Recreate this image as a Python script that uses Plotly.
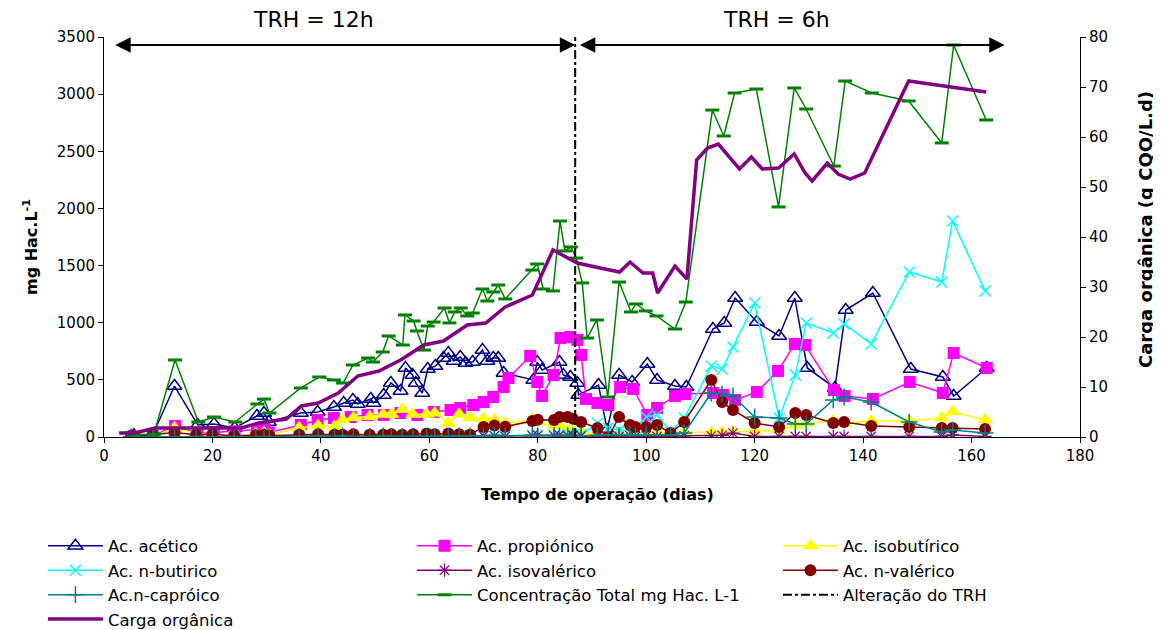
import plotly.graph_objects as go

# ---------------- data ----------------
ac_d = [5.5, 9, 13, 17.3, 20.3, 24.1, 28.2, 29.5, 30.4, 36.3, 39.4, 42.4, 44.2, 45.9, 46.8, 49.2, 49.7, 51.6,
        52.9, 54.7, 55.6, 56.9, 57.5, 58.7, 59.7, 61.1, 62.6, 63.5, 64.5, 65.7, 66.7, 68, 69.8, 70.7, 71.8,
        72.7, 73.7, 79.2, 79.9, 80.8, 84, 84.7, 86, 87.3, 87.5, 91.2, 92.8, 95, 97.4, 100.2, 102, 105.3,
        107.4, 112.3, 114.4, 116.4, 120.4, 124.5, 127.4, 129.7, 134.8, 136.8, 141.8, 148.8, 154.7, 156.7, 162.8]
ac_v = [15, 20, 446, 105, 114, 79, 184, 210, 131, 210, 219, 263, 298, 324, 289, 333, 298, 368,
        473, 403, 604, 543, 473, 385, 595, 621, 691, 735, 665, 700, 648, 656, 761, 665, 691,
        691, 560, 499, 656, 586, 656, 543, 525, 473, 368, 455, 61, 543, 481, 639, 499, 446,
        438, 945, 998, 1216, 1006, 884, 1216, 604, 429, 1111, 1260, 595, 525, 359, 604]

pr_d = [5.5, 9, 13.1, 17.3, 20.3, 24.1, 28.2, 29.5, 30.4, 36.3, 39.4, 42.4, 45.5, 48.6, 51.6, 54.7, 57.8,
        60.8, 63.9, 65.7, 68.1, 70, 71.8, 73.7, 74.6, 78.6, 79.9, 80.8, 82.9, 84.2, 86, 87.3, 88, 88.9,
        91, 93, 95.2, 97.6, 100.2, 102, 105.3, 107.2, 112.3, 114.2, 116.4, 120.4, 124.3, 127.4, 129.3,
        134.6, 136.6, 141.8, 148.6, 154.7, 156.7, 162.8]
pr_v = [5, 10, 96, 30, 40, 50, 60, 70, 40, 105, 149, 166, 175, 193, 193, 210, 193,
        219, 236, 254, 280, 306, 350, 438, 516, 709, 481, 359, 543, 866, 875, 849, 718, 333,
        298, 280, 438, 420, 193, 254, 359, 376, 385, 368, 324, 394, 578, 814, 805,
        411, 359, 333, 481, 385, 735, 604]

# shared sampling days for the minor acids
dias = [5, 9, 13, 17, 20, 24, 28, 29.5, 30.5, 36, 39.5, 42.5, 44, 46, 49, 51.5, 53, 55, 57, 59.5,
        61, 63.5, 65.5, 67.5, 70, 72, 74, 79, 80, 83, 84, 85.5, 86.5, 88, 91, 93, 95, 97, 98, 100,
        102, 104.5, 107, 112, 114, 116, 120, 124.5, 127.5, 129.5, 134.5, 136.5, 141.5, 148.5,
        154.5, 156.5, 162.5]
isobut = [10, 0, 80, 30, 20, 0, 30, 40, 20, 80, 100, 90, 150, 170, 180, 200, 200, 240, 200, 200,
          210, 120, 200, 170, 160, 150, 120, 150, 130, 100, 100, 60, 50, 40, 30, 25, 30, 30, 30, 30,
          35, 35, 40, 40, 40, 45, 50, 60, 105, 120, 140, 120, 140, 140, 166, 220, 150]
nbut = [0, 0, 5, 0, 5, 0, 5, 0, 5, 0, 5, 0, 5, 0, 5, 5, 5, 5, 5, 5,
        5, 5, 10, 10, 10, 10, 10, 15, 15, 15, 15, 20, 20, 20, 120, 80, 60, 60, 80, 175,
        193, 44, 166, 621, 595, 788, 1173, 166, 543, 998, 910, 989, 814, 1444, 1356, 1890, 1278]
isoval = [0, 0, 5, 0, 0, 0, 0, 5, 0, 5, 0, 5, 0, 5, 0, 5, 0, 5, 0, 5,
          0, 5, 10, 5, 10, 10, 5, 10, 15, 10, 15, 10, 15, 10, 5, 10, 5, 10, 5, 10,
          5, 5, 10, 10, 15, 35, 5, 5, 5, 5, 5, 5, 5, 5, 5, 18, 5]
nval = [10, 20, 40, 20, 25, 10, 15, 20, 10, 20, 25, 20, 20, 25, 20, 20, 25, 20, 25, 30,
        25, 30, 25, 20, 88, 100, 90, 140, 150, 149, 175, 175, 160, 131, 79, 0, 175, 105, 88, 88,
        105, 35, 131, 499, 306, 236, 123, 88, 210, 193, 123, 131, 96, 88, 79, 79, 70]
ncap = [0, 5, 0, 5, 0, 5, 0, 5, 0, 5, 10, 5, 10, 5, 5, 10, 5, 5, 5, 5,
        5, 5, 10, 10, 10, 15, 10, 15, 10, 15, 10, 15, 10, 10, 15, 20, 15, 20, 15, 20,
        20, 18, 35, 385, 376, 359, 175, 166, 114, 114, 324, 350, 306, 131, 44, 61, 35]

tot_d = [5.5, 9.2, 13.1, 17.4, 20.3, 24.2, 28.3, 29.5, 30.5, 36.3, 39.7, 42.4, 44.1, 45.9, 48.7, 49.6,
         51.4, 52.5, 55.1, 55.5, 57.1, 57.7, 59, 59.7, 60.8, 62.8, 63.7, 64.7, 65.8, 67, 68, 69.8, 70.7,
         71.8, 72.7, 74, 79, 79.9, 81, 82.8, 84.1, 85, 86.1, 87.1, 88.2, 89.1, 90.9, 92.9, 95, 97.2,
         98.1, 99.9, 101.9, 105.3, 107.3, 112.2, 114.3, 116.3, 120.3, 124.4, 127.3, 129.5, 134.6,
         136.7, 141.6, 148.4, 154.5, 156.7, 162.7]
tot_v = [20, 25, 674, 131, 175, 131, 289, 332, 210, 429, 525, 499, 472, 630, 691, 656,
         744, 884, 805, 1068, 1015, 928, 761, 971, 1006, 1129, 998, 1094, 1129, 1059, 1085, 1295, 1190,
         1269, 1330, 1208, 1461, 1514, 1295, 1278, 1890, 1628, 1663, 1566, 1348, 866, 1024, 350, 1356, 1094,
         1164, 1103, 1059, 945, 1181, 2861, 2634, 3010, 3045, 2013, 3054, 2870, 2371,
         3115, 3010, 2940, 2573, 3430, 2774]

cg_d = [2.8, 5.7, 9.4, 25.3, 28.5, 33.6, 36.4, 39.5, 43.2, 46.8, 50.7, 54.7, 59, 62.6, 67, 70.4, 74,
        79, 82.8, 87.3, 91.5, 95.1, 97, 99.4, 101.2, 102.1, 105.3, 107.5, 109.3, 111.3, 113.3, 115.4,
        117.2, 119.4, 121.4, 124.4, 127.3, 129.3, 130.6, 133.4, 135.4, 137.6, 140.3, 148.4, 162.7]
cg_v = [0.8, 0.8, 1.8, 1.8, 2.8, 3.6, 6.2, 6.8, 8.8, 12.2, 13.2, 15.4, 18.4, 19.2, 22.4, 22.8, 26,
        28.4, 37.4, 34.8, 33.8, 33, 35, 32.8, 32.8, 28.8, 34.2, 31.6, 55.4, 57.8, 58.6, 55.8,
        53.6, 56, 53.6, 53.8, 56.6, 52.8, 51.2, 54.8, 52.6, 51.6, 52.8, 71.2, 69]

trh_day = 86.9
trh_y = [0, 3500]
arrow_y = 3430
fase1 = [1.8, trh_day]
fase2 = [trh_day + 0.6, 166.1]

FONT = "DejaVu Sans"

fig = go.Figure()

def add(x, y, name, color, symbol, size, legend, lw=1.5, mline=None):
    fig.add_trace(go.Scatter(
        x=x, y=y, name=name, mode="lines+markers", legend=legend,
        line=dict(color=color, width=lw),
        marker=dict(symbol=symbol, size=size, color=color,
                    line=dict(color=color, width=mline if mline is not None else 0)),
    ))

add(ac_d, ac_v, "Ac. acético", "#000080", "triangle-up-open", 13, "legend", mline=1.5)
add(pr_d, pr_v, "Ac. propiónico", "#FF00FF", "square", 12, "legend2")
add(dias, isobut, "Ac. isobutírico", "#FFFF00", "triangle-up", 14, "legend3")
add(dias, nbut, "Ac. n-butirico", "#00FFFF", "x-thin-open", 11, "legend", mline=1.5)
add(dias, isoval, "Ac. isovalérico", "#800080", "asterisk-open", 11, "legend2", mline=1.2)
add(dias, nval, "Ac. n-valérico", "#800000", "circle", 12, "legend3")
add(dias, ncap, "Ac.n-capróico", "#008080", "cross-thin-open", 12, "legend", mline=1.5)
add(tot_d, tot_v, "Concentração Total mg Hac. L-1", "#008000", "line-ew-open", 10, "legend2", mline=3)

fig.add_trace(go.Scatter(
    x=[trh_day, trh_day], y=trh_y, name="Alteração do TRH", mode="lines", legend="legend3",
    line=dict(color="black", width=2, dash="dashdot")))

fig.add_trace(go.Scatter(
    x=cg_d, y=cg_v, name="Carga orgânica", mode="lines", yaxis="y2", legend="legend",
    line=dict(color="#800080", width=3.5)))

# TRH arrows
for seg in (fase1, fase2):
    fig.add_annotation(x=seg[1], y=arrow_y, ax=seg[0], ay=arrow_y, xref="x", yref="y",
                       axref="x", ayref="y", text="", showarrow=True, arrowhead=2,
                       arrowside="end+start", arrowsize=1.4, arrowwidth=2.2, arrowcolor="black")

fig.add_annotation(x=38.7, y=1.043, xref="x", yref="paper", text="TRH = 12h", showarrow=False,
                   font=dict(family=FONT, size=22, color="black"), yanchor="middle")
fig.add_annotation(x=124, y=1.043, xref="x", yref="paper", text="TRH = 6h", showarrow=False,
                   font=dict(family=FONT, size=22, color="black"), yanchor="middle")

# axis titles as annotations
fig.add_annotation(x=0.506, y=-0.1425, xref="paper", yref="paper", showarrow=False,
                   text="<b>Tempo de operação (dias)</b>", font=dict(family=FONT, size=16, color="black"),
                   xanchor="center", yanchor="middle")
fig.add_annotation(x=-0.0758, y=0.475, xref="paper", yref="paper", showarrow=False, textangle=-90,
                   text="<b>mg Hac.L<sup>-1</sup></b>", font=dict(family=FONT, size=16, color="black"),
                   xanchor="center", yanchor="middle")
fig.add_annotation(x=1.0666, y=0.5175, xref="paper", yref="paper", showarrow=False, textangle=-90,
                   text="<b>Carga orgânica (g CQO/L.d)</b>", font=dict(family=FONT, size=18, color="black"),
                   xanchor="center", yanchor="middle")

def leg(xpos):
    return dict(orientation="v", xref="container", yref="container", x=xpos, y=0.1738,
                xanchor="left", yanchor="top", tracegroupgap=0, itemwidth=55,
                font=dict(family=FONT, size=16.5, color="black"), bgcolor="rgba(0,0,0,0)")

axis_font = dict(family=FONT, size=15, color="black")
common = dict(showgrid=False, zeroline=False, showline=True, linecolor="black", linewidth=1,
              ticks="outside", ticklen=5, tickcolor="black", tickfont=axis_font)
fig.update_layout(
    width=1161, height=630,
    margin=dict(l=96, r=89, t=29, b=201, autoexpand=False),
    paper_bgcolor="white", plot_bgcolor="white",
    font=dict(family=FONT, size=15, color="black"),
    showlegend=True,
    legend=leg(0.0301), legend2=leg(0.348), legend3=leg(0.6632),
    xaxis=dict(range=[0, 180], dtick=20, **common),
    yaxis=dict(range=[0, 3500], dtick=500, **common),
    yaxis2=dict(range=[0, 80], dtick=10, overlaying="y", side="right", **common),
)

fig.write_html("out.html")
